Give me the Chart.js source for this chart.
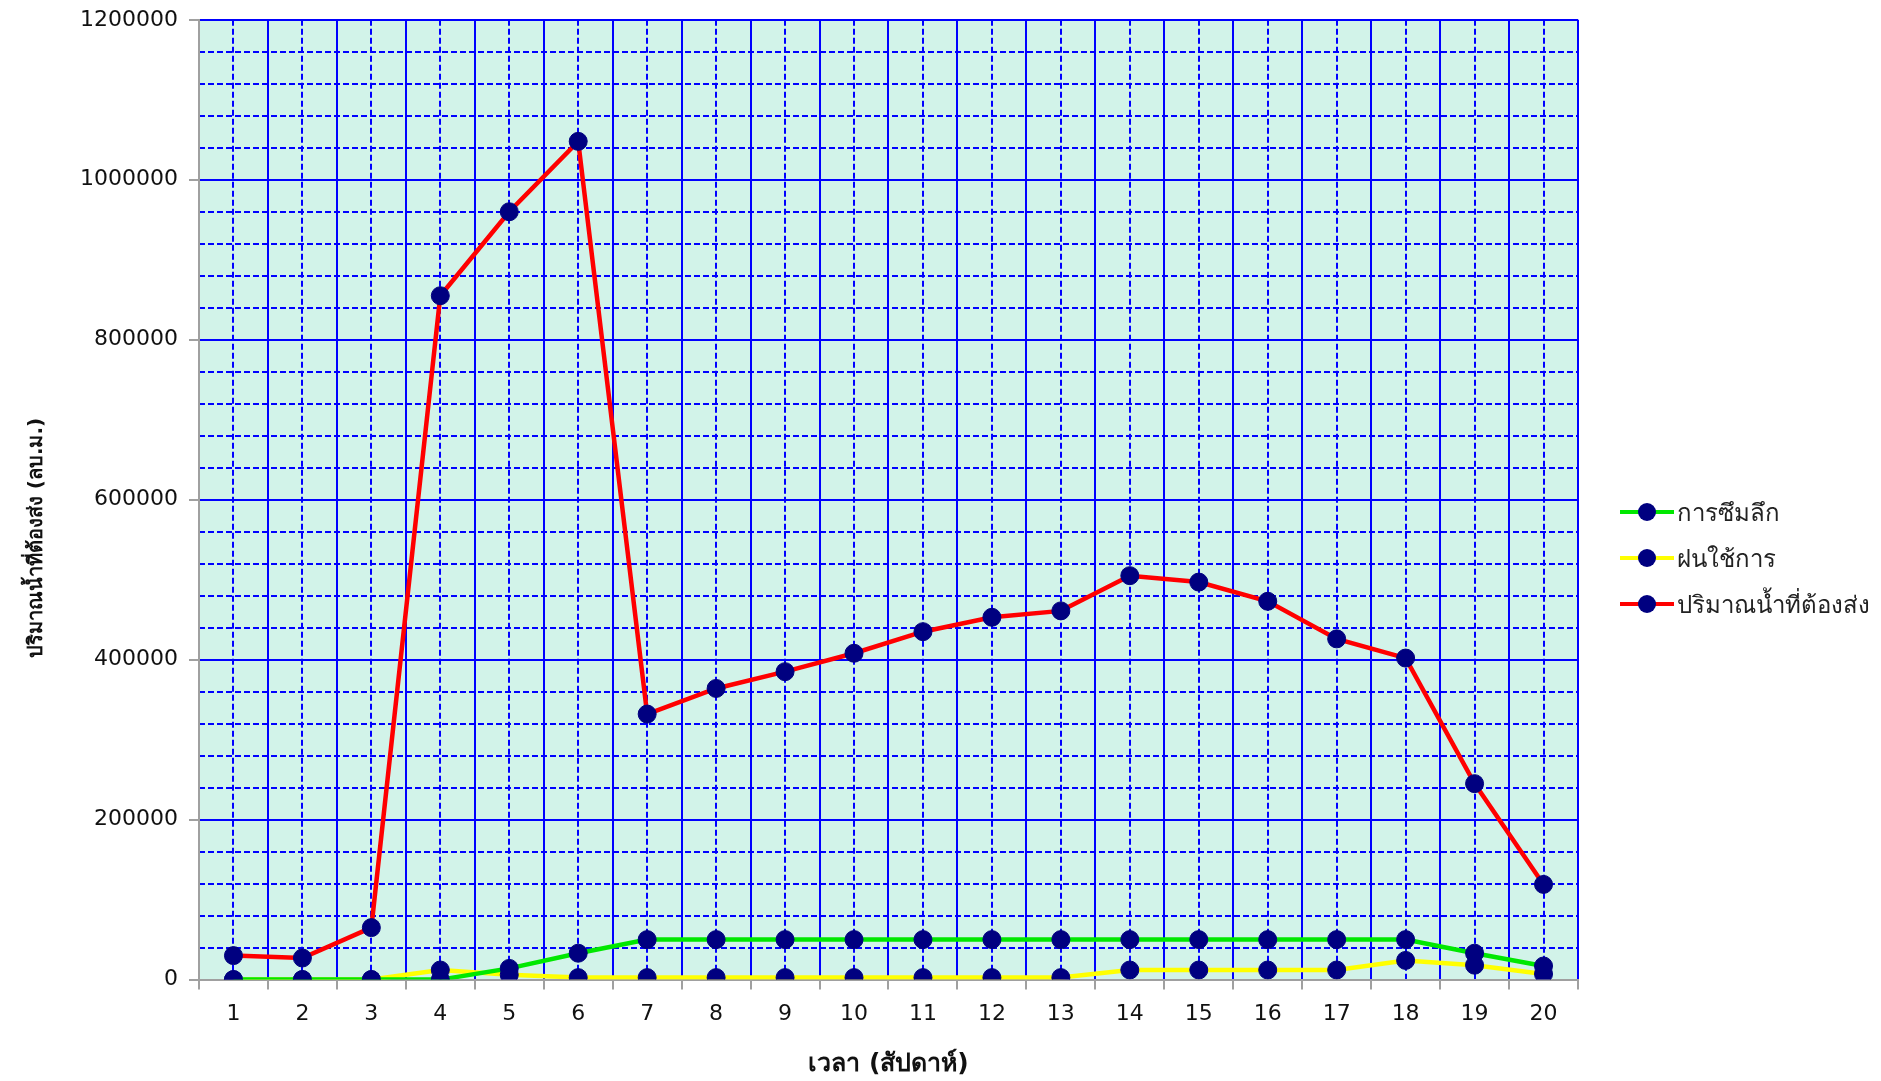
<!DOCTYPE html>
<html>
<head>
<meta charset="utf-8">
<title>ปริมาณน้ำที่ต้องส่ง</title>
<script src="https://cdn.jsdelivr.net/npm/chart.js@4.4.1/dist/chart.umd.min.js"></script>
<style>
  html, body { margin: 0; padding: 0; background: #fff; }
  #wrap { position: relative; width: 1881px; height: 1081px; }
  #legend {
    position: absolute; left: 1620px; top: 489px;
    font-family: Tahoma, 'DejaVu Sans', 'Noto Sans', sans-serif;
    font-size: 24px; color: #222;
  }
  .item { display: flex; align-items: center; height: 46px; white-space: nowrap; }
  .key { position: relative; width: 54px; height: 28px; margin-right: 3px; flex: none; }
  .key .ln { position: absolute; left: 0; right: 0; top: 12px; height: 4px; }
  .key .dot { position: absolute; left: 18px; top: 5px; width: 18px; height: 18px; border-radius: 50%; background: #000080; }
</style>
</head>
<body>
<div id="wrap">
  <canvas id="waterChart" width="1881" height="1081"></canvas>
  <div id="legend"></div>
</div>
<script>
'use strict';

// ----- データ -----
const weeks = ['1', '2', '3', '4', '5', '6', '7', '8', '9', '10',
               '11', '12', '13', '14', '15', '16', '17', '18', '19', '20'];

// การซึมลึก
const seepage = [0, 0, 0, 0, 14000, 33000, 50000, 50000, 50000, 50000,
                 50000, 50000, 50000, 50000, 50000, 50000, 50000, 50000, 33000, 17000];

// ฝนใช้การ
const effectiveRain = [0, 0, 0, 12000, 6000, 2500, 2500, 2500, 2500, 2500,
                       2500, 2500, 2500, 12000, 12000, 12000, 12000, 24000, 18000, 7000];

// ปริมาณน้ำที่ต้องส่ง
const delivery = [30000, 27000, 65000, 855000, 960000, 1048000, 332000, 364000, 385000, 408000,
                  435000, 453000, 461000, 505000, 497000, 473000, 426000, 402000, 245000, 119000];

const seriesNames = ['การซึมลึก', 'ฝนใช้การ', 'ปริมาณน้ำที่ต้องส่ง'];
const seriesColors = ['#00e800', '#ffff00', '#ff0000'];

const yMin = 0;
const yMax = 1200000;
const yMajorStep = 200000;
const yMinorStep = 40000;

const xTitle = 'เวลา (สัปดาห์)';
const yTitle = 'ปริมาณน้ำที่ต้องส่ง (ลบ.ม.)';

// ----- 共通設定 -----
const FONT = "Tahoma, 'DejaVu Sans', 'Noto Sans', sans-serif";
Chart.defaults.font.family = FONT;
Chart.defaults.color = '#111';

const GRID_BLUE = '#0000ff';
const AXIS_GREY = '#a0a0a0';
const MARKER = '#000080';
const DASH = [6, 3];

// plot area background
const plotBg = {
  id: 'plotBg',
  beforeDraw(chart) {
    const { ctx, chartArea: a } = chart;
    ctx.save();
    ctx.fillStyle = '#d2f3e9';
    ctx.fillRect(a.left, a.top, a.right - a.left, a.bottom - a.top);
    ctx.restore();
  }
};

const allSeries = [seepage, effectiveRain, delivery];

new Chart(document.getElementById('waterChart'), {
  type: 'line',
  data: {
    labels: weeks,
    datasets: allSeries.map((values, i) => ({
      label: seriesNames[i],
      data: values,
      borderColor: seriesColors[i],
      borderWidth: 4.5,
      pointRadius: 9,
      pointHoverRadius: 9,
      pointBackgroundColor: MARKER,
      pointBorderColor: MARKER,
      pointBorderWidth: 1,
      tension: 0,
      fill: false,
      xAxisID: 'x',
      yAxisID: 'y'
    }))
  },
  options: {
    responsive: false,
    animation: false,
    layout: { padding: { left: 19, right: 303, top: 8, bottom: 0 } },
    plugins: {
      legend: { display: false },
      tooltip: { enabled: false }
    },
    scales: {
      // dashed minor lines (y every 40000)
      yMinor: {
        position: 'left',
        min: yMin,
        max: yMax,
        ticks: { display: false, stepSize: yMinorStep },
        grid: { color: GRID_BLUE, lineWidth: 2, drawTicks: false },
        border: { display: false, dash: DASH }
      },
      // dashed lines at category centres
      xMinor: {
        type: 'category',
        position: 'bottom',
        offset: true,
        ticks: { display: false },
        grid: { offset: false, color: GRID_BLUE, lineWidth: 2, drawTicks: false },
        border: { display: false, dash: DASH }
      },
      x: {
        type: 'category',
        position: 'bottom',
        offset: true,
        grid: { offset: true, color: GRID_BLUE, lineWidth: 2, tickColor: AXIS_GREY, tickLength: 10 },
        border: { color: AXIS_GREY, width: 2 },
        ticks: { font: { size: 22 }, color: '#111', padding: 11, maxRotation: 0, autoSkip: false },
        title: {
          display: true,
          text: xTitle,
          font: { size: 25, weight: 'bold' },
          color: '#111',
          padding: { top: 11, bottom: 2 }
        }
      },
      y: {
        position: 'left',
        min: yMin,
        max: yMax,
        grid: { color: GRID_BLUE, lineWidth: 2, tickColor: AXIS_GREY, tickLength: 10 },
        border: { color: AXIS_GREY, width: 2 },
        ticks: {
          stepSize: yMajorStep,
          font: { size: 22, lineHeight: 0.8 },
          color: '#111',
          padding: 11,
          callback: v => String(v)
        },
        title: {
          display: true,
          // trailing spaces push the centred title a little lower, as in the original
          text: yTitle + '           ',
          font: { size: 20, weight: 'bold' },
          color: '#111',
          padding: { top: 6, bottom: 20 }
        }
      }
    }
  },
  plugins: [plotBg]
});

// ----- 凡例 -----
const legendEl = document.getElementById('legend');
seriesNames.forEach((name, i) => {
  const item = document.createElement('div');
  item.className = 'item';
  item.innerHTML = `<span class="key"><span class="ln" style="background:${seriesColors[i]}"></span><span class="dot"></span></span><span>${name}</span>`;
  legendEl.appendChild(item);
});
</script>
</body>
</html>
